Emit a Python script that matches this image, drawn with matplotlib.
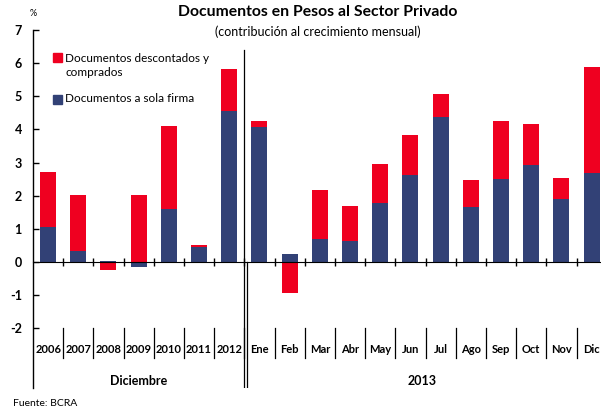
import numpy as np
import matplotlib.pyplot as plt
from matplotlib.patches import Rectangle

plt.rcParams['font.family'] = ['Lato', 'DejaVu Sans']

# data
categorias = ["2006", "2007", "2008", "2009", "2010", "2011", "2012",
              "Ene", "Feb", "Mar", "Abr", "May", "Jun", "Jul", "Ago",
              "Sep", "Oct", "Nov", "Dic"]
sola_firma = [1.07, 0.32, 0.04, -0.14, 1.61, 0.46, 4.55,
              4.06, 0.25, 0.68, 0.64, 1.79, 2.64, 4.39, 1.65,
              2.52, 2.94, 1.91, 2.68]
descontados = [1.66, 1.71, -0.25, 2.03, 2.48, 0.04, 1.26,
               0.18, -0.94, 1.50, 1.06, 1.18, 1.18, 0.69, 0.81,
               1.72, 1.21, 0.64, 3.19]
grupos = ["Diciembre", "2013"]

rojo = "#EF0020"
azul = "#324176"

x = np.arange(len(categorias))
blue = np.array(sola_firma)
red = np.array(descontados)
# red stacks on blue only when both have the same sign
base = np.where(np.sign(blue) == np.sign(red), blue, 0)

fig = plt.figure(figsize=(6.01, 4.08), dpi=100)
ax = fig.add_axes([33/601, 20/408, 568/601, 358/408])

ax.bar(x, blue, width=0.53, color=azul, zorder=2)
ax.bar(x, red, width=0.53, bottom=base, color=rojo, zorder=2)

ax.set_xlim(-0.5, 18.31)
ax.set_ylim(-3.8, 7)
ax.set_yticks(range(-2, 8))
ax.set_yticklabels([str(v) for v in range(-2, 8)], fontweight="bold", fontsize=9)
ax.tick_params(axis="y", direction="in", length=4, width=1, pad=8)

ax.spines["top"].set_visible(False)
ax.spines["right"].set_visible(False)
ax.spines["bottom"].set_position(("data", 0))
ax.spines["left"].set_linewidth(1)
ax.set_xticks(x[:-1] + 0.5)
ax.set_xticklabels([])
ax.tick_params(axis="x", direction="inout", length=6, width=1)

# category labels and separators below the chart
for i, c in enumerate(categorias):
    ax.text(i, -2.65, c, ha="center", va="center", fontsize=8, fontweight="bold")
for b in x[:-1] + 0.5:
    ax.plot([b, b], [-2.0, -2.9], color="black", lw=0.9, clip_on=False)

# separator between December series and 2013 months
ax.plot([6.5, 6.5], [-3.8, 6.4], color="black", lw=0.9)
ax.plot([6.6, 6.6], [-3.8, 0], color="black", lw=0.9)

ax.text(3.0, -3.6, grupos[0], ha="center", va="center", fontsize=9, fontweight="bold")
ax.text(12.4, -3.6, grupos[1], ha="center", va="center", fontsize=9, fontweight="bold")

fig.text(318/601, 1 - 12/408, "Documentos en Pesos al Sector Privado",
         ha="center", va="center", fontsize=11.3, fontweight="bold")
fig.text(318/601, 1 - 32/408, "(contribución al crecimiento mensual)",
         ha="center", va="center", fontsize=9)
fig.text(33/601, 1 - 13/408, "%", ha="center", va="center", fontsize=6.5)
fig.text(13/601, 1 - 403/408, "Fuente: BCRA", ha="left", va="center", fontsize=7.5)

# legend drawn by hand, in axes fractions
def ax_pt(px, py):
    return (px - 33) / 568, (388 - py) / 358

sq_w, sq_h = 9 / 568, 9 / 358
for py, col in [(53, rojo), (95, azul)]:
    x0, y0 = ax_pt(53, py + 9)
    ax.add_patch(Rectangle((x0, y0), sq_w, sq_h, color=col, transform=ax.transAxes,
                           clip_on=False, zorder=3))
ax.text(*ax_pt(65, 58), "Documentos descontados y", transform=ax.transAxes,
        ha="left", va="center", fontsize=8.5)
ax.text(*ax_pt(65, 73), "comprados", transform=ax.transAxes,
        ha="left", va="center", fontsize=8.5)
ax.text(*ax_pt(65, 99), "Documentos a sola firma", transform=ax.transAxes,
        ha="left", va="center", fontsize=8.5)

fig.savefig("out.png", dpi=100)
